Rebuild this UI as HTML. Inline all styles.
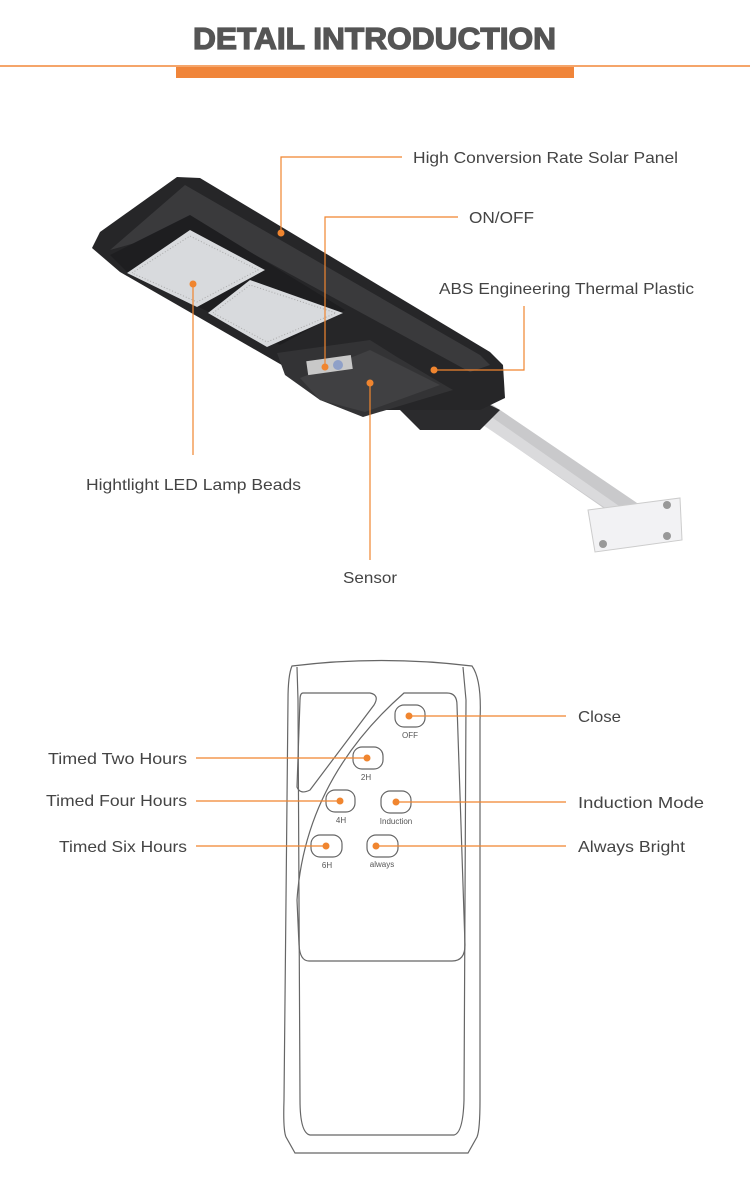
<!DOCTYPE html>
<html><head><meta charset="utf-8"><style>
html,body{margin:0;padding:0;background:#fff;}
svg{display:block;}
text{font-family:"Liberation Sans",sans-serif;}
</style></head><body>
<svg width="750" height="1179" viewBox="0 0 750 1179" xmlns="http://www.w3.org/2000/svg">
<!-- header -->
<text x="193" y="49" font-size="31" font-weight="bold" fill="#555" stroke="#555" stroke-width="1.3" textLength="363" lengthAdjust="spacingAndGlyphs">DETAIL INTRODUCTION</text>
<rect x="0" y="65" width="750" height="2" fill="#f5a56a"/>
<rect x="176" y="67" width="398" height="11" fill="#f0853a"/>

<!-- lamp -->
<g>
<polygon points="455,405 478,395 640,505 628,525" fill="#c9c9cb"/>
<polygon points="458,408 470,402 632,515 626,522" fill="#dadadc"/>
<polygon points="588,510 680,498 682,540 595,552" fill="#f2f2f4" stroke="#ccc" stroke-width="1"/>
<circle cx="603" cy="544" r="4" fill="#999"/><circle cx="667" cy="505" r="4" fill="#999"/><circle cx="667" cy="536" r="4" fill="#999"/>
<polygon points="395,405 470,395 500,410 480,430 420,430" fill="#2b2b2d"/>
<polygon points="177,177 200,178 490,352 503,365 505,398 480,410 360,410 120,272 92,248 100,232" fill="#262628"/>
<polygon points="185,185 480,355 490,365 470,372 200,225 110,250" fill="#3a3a3c"/>
<polygon points="110,255 190,215 345,310 280,345 130,275" fill="#1e1e20"/>
<polygon points="127,273 190,230 265,270 197,307" fill="#d8dadd"/>
<polygon points="132,273 190,236 258,270 197,302" fill="none" stroke="#aaa" stroke-width="1" stroke-dasharray="1,2"/>
<polygon points="208,313 250,280 343,313 267,347" fill="#d8dadd"/>
<polygon points="213,313 250,285 336,313 267,342" fill="none" stroke="#aaa" stroke-width="1" stroke-dasharray="1,2"/>
<polygon points="277,353 370,340 397,357 453,390 363,417 320,400 285,375" fill="#333335"/>
<polygon points="300,378 370,350 440,385 365,412 320,400" fill="#404042"/>
<rect x="307" y="358" width="45" height="14" fill="#c8c8c8" transform="rotate(-8 330 365)"/>
<circle cx="338" cy="365" r="5" fill="#8fa0c8"/>
</g>

<g stroke="#f0852f" stroke-width="1.2" fill="none">
<polyline points="281,233 281,157 402,157"/>
<polyline points="325,367 325,217 458,217"/>
<polyline points="434,370 524,370 524,306"/>
<polyline points="193,284 193,455"/>
<polyline points="370,383 370,560"/>
</g>
<g fill="#f0852f">
<circle cx="281" cy="233" r="3.5"/><circle cx="325" cy="367" r="3.5"/><circle cx="434" cy="370" r="3.5"/>
<circle cx="193" cy="284" r="3.5"/><circle cx="370" cy="383" r="3.5"/>
</g>
<g fill="#444" font-size="16">
<text x="413" y="163" textLength="265" lengthAdjust="spacingAndGlyphs">High Conversion Rate Solar Panel</text>
<text x="469" y="223" textLength="65" lengthAdjust="spacingAndGlyphs">ON/OFF</text>
<text x="439" y="294" textLength="255" lengthAdjust="spacingAndGlyphs">ABS Engineering Thermal Plastic</text>
<text x="86" y="490" textLength="215" lengthAdjust="spacingAndGlyphs">Hightlight LED Lamp Beads</text>
<text x="343" y="583" textLength="54" lengthAdjust="spacingAndGlyphs">Sensor</text>
</g>

<!-- remote -->
<g fill="none" stroke="#666" stroke-width="1.2">
<path d="M292,666 Q381,655 472,666 Q482,680 480,720 L480,1100 Q480,1130 477,1137 L468,1153 L295,1153 L286,1137 Q283,1130 284,1100 L288,700 Q288,675 292,666 Z"/>
<path d="M297,667 L298,700 L300,1100 Q300,1133 310,1135 L454,1135 Q463,1133 464,1100 L466,700 L463,667"/>
<path d="M303,693 L370,693 Q380,695 374,705 L310,790 Q300,795 297,787 L300,700 Q300,693 303,693 Z"/>
<path d="M404,693 L447,693 Q457,693 457,705 L465,945 Q465,961 452,961 L309,961 Q300,961 299,945 L297,900 Q305,780 404,693 Z"/>
<rect x="395" y="705" width="30" height="22" rx="9"/>
<rect x="353" y="747" width="30" height="22" rx="9"/>
<rect x="326" y="790" width="29" height="22" rx="9"/>
<rect x="381" y="791" width="30" height="22" rx="9"/>
<rect x="311" y="835" width="31" height="22" rx="9"/>
<rect x="367" y="835" width="31" height="22" rx="9"/>
</g>
<g fill="#555" font-size="8" text-anchor="middle">
<text x="410" y="738">OFF</text>
<text x="366" y="780">2H</text>
<text x="341" y="823">4H</text>
<text x="396" y="824">Induction</text>
<text x="327" y="868">6H</text>
<text x="382" y="867">always</text>
</g>
<g stroke="#f0852f" stroke-width="1.2">
<line x1="409" y1="716" x2="566" y2="716"/>
<line x1="196" y1="758" x2="367" y2="758"/>
<line x1="196" y1="801" x2="340" y2="801"/>
<line x1="396" y1="802" x2="566" y2="802"/>
<line x1="196" y1="846" x2="326" y2="846"/>
<line x1="376" y1="846" x2="566" y2="846"/>
</g>
<g fill="#f0852f">
<circle cx="409" cy="716" r="3.5"/><circle cx="367" cy="758" r="3.5"/><circle cx="340" cy="801" r="3.5"/>
<circle cx="396" cy="802" r="3.5"/><circle cx="326" cy="846" r="3.5"/><circle cx="376" cy="846" r="3.5"/>
</g>
<g fill="#444" font-size="16">
<text x="578" y="722" textLength="43" lengthAdjust="spacingAndGlyphs">Close</text>
<text x="48" y="764" textLength="139" lengthAdjust="spacingAndGlyphs">Timed Two Hours</text>
<text x="46" y="806" textLength="141" lengthAdjust="spacingAndGlyphs">Timed Four Hours</text>
<text x="578" y="808" textLength="126" lengthAdjust="spacingAndGlyphs">Induction Mode</text>
<text x="59" y="852" textLength="128" lengthAdjust="spacingAndGlyphs">Timed Six Hours</text>
<text x="578" y="852" textLength="107" lengthAdjust="spacingAndGlyphs">Always Bright</text>
</g>
</svg>
</body></html>
